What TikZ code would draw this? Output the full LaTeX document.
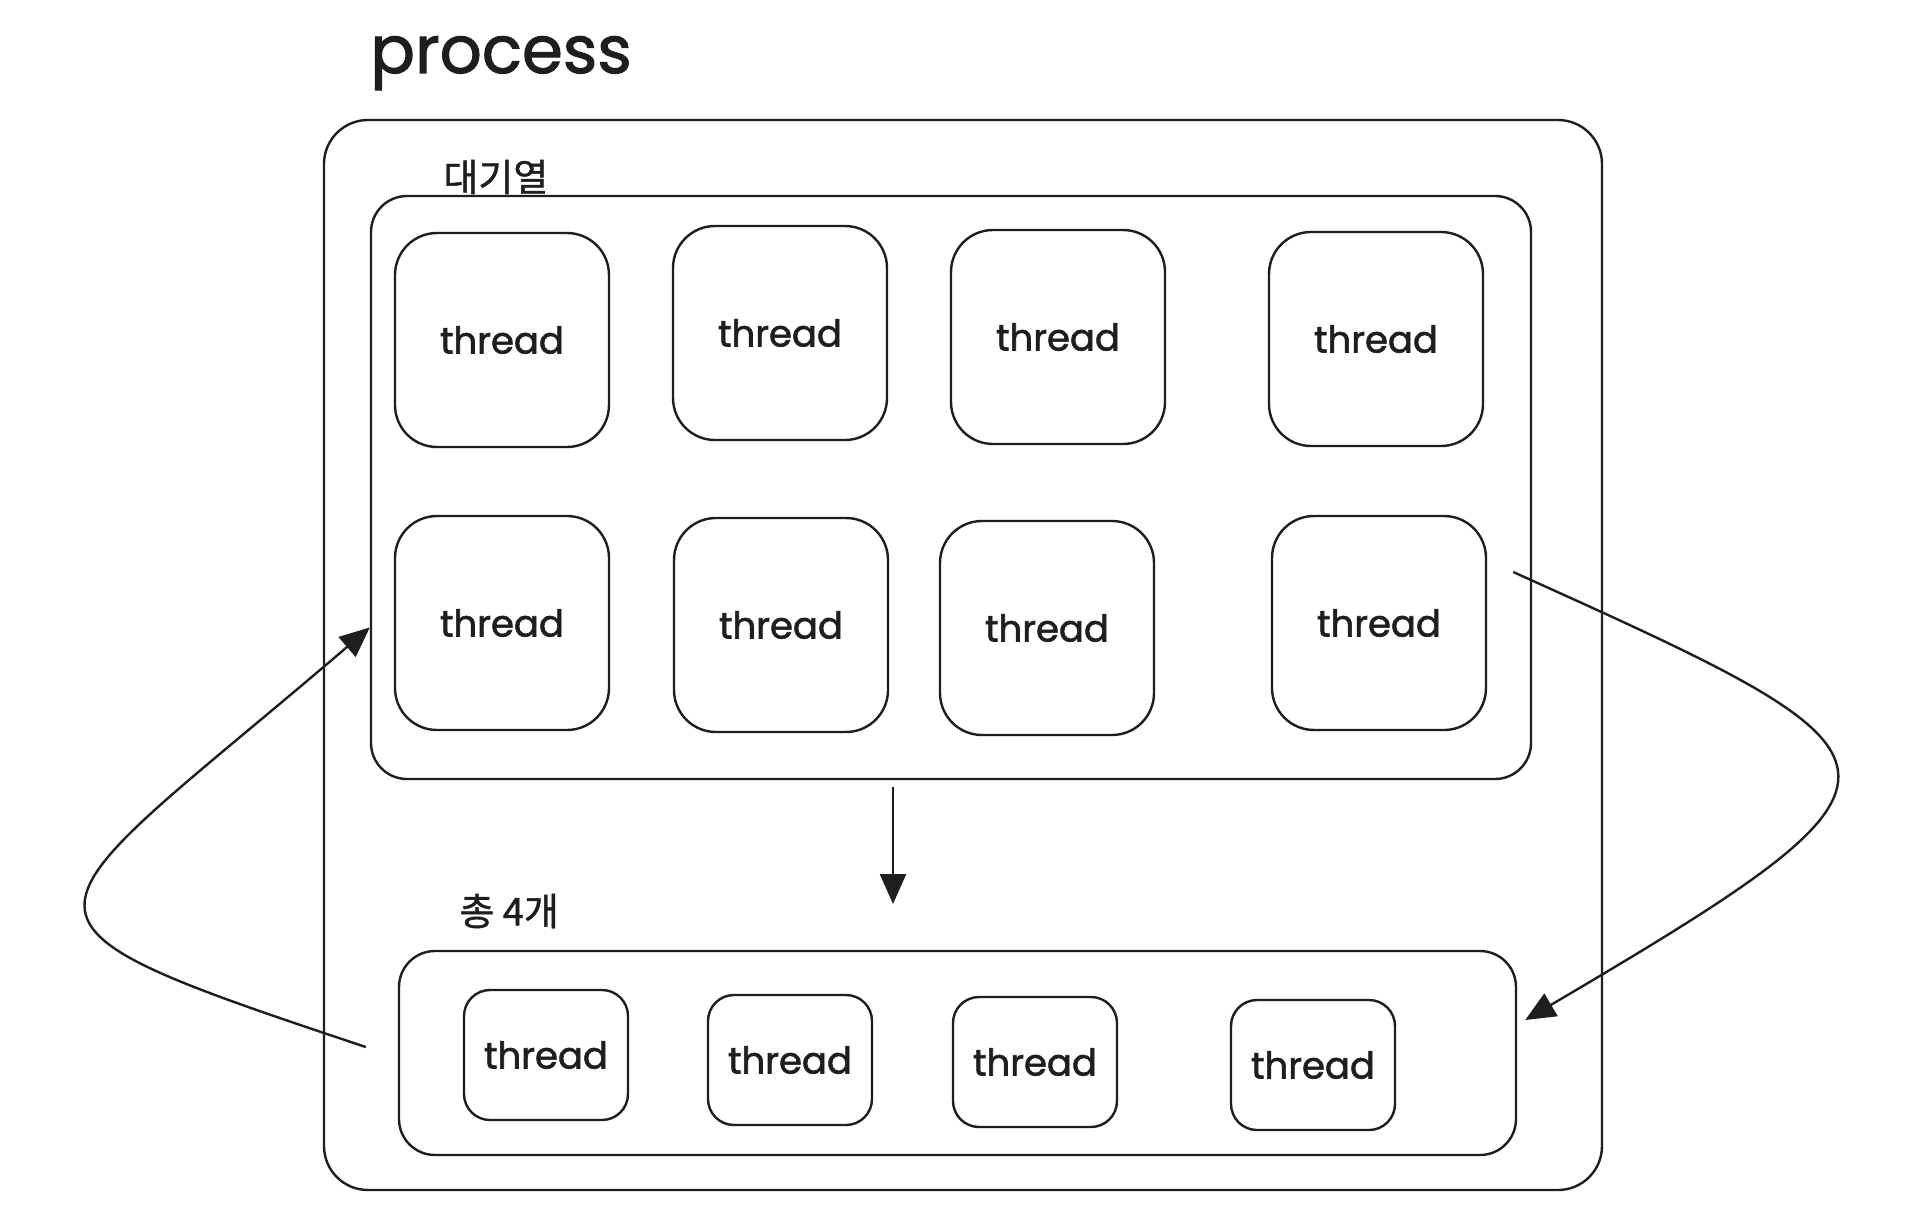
\documentclass[tikz,border=0pt]{standalone}
\usepackage{fontspec}
\setmainfont{Poppins}[FakeBold=1.6]
\newfontfamily\krfont{Noto Sans CJK KR}[FakeBold=1.2]
\usetikzlibrary{arrows.meta}
\definecolor{ink}{HTML}{1E1E1E}
\begin{document}
\begin{tikzpicture}[x=0.5pt,y=-0.5pt,
  box/.style={draw=ink, line width=1.2pt, rounded corners=#1, inner sep=0pt},
  bigthread/.style={box=21pt, minimum width=107pt, minimum height=107pt, font=\fontsize{18.5}{22}\selectfont, text=ink},
  smallthread/.style={box=13pt, minimum width=82pt, minimum height=65pt, font=\fontsize{18.5}{22}\selectfont, text=ink},
  lbl/.style={font=\krfont\fontsize{19}{21}\selectfont, text=ink, inner sep=0pt},
  arr/.style={draw=ink, line width=1.2pt, -{Triangle[length=15pt,width=13pt]}}]
\useasboundingbox (0,0) rectangle (1920,1220);
\fill[white] (0,0) rectangle (1920,1220);
% title
\node[anchor=base west, inner sep=0pt, font=\fontsize{33}{38}\selectfont, text=ink] (title) at (370,73) {process};
% containers
\node[box=22pt, minimum width=639pt, minimum height=535pt] (proc) at (963,655) {};
\node[box=18pt, minimum width=580pt, minimum height=291.5pt] (queue) at (951,487.5) {};
\node[box=18pt, minimum width=558.5pt, minimum height=102pt] (bot) at (957.5,1053) {};
% labels
\node[lbl, anchor=west] (qlbl) at (443,177) {대기열};
\node[lbl, anchor=west] (blbl) at (459,911) {총 4개};
% queue threads
\node[bigthread] (t1) at (502,340) {thread};
\node[bigthread] (t2) at (780,333) {thread};
\node[bigthread] (t3) at (1058,337) {thread};
\node[bigthread] (t4) at (1376,339) {thread};
\node[bigthread] (t5) at (502,623) {thread};
\node[bigthread] (t6) at (781,625) {thread};
\node[bigthread] (t7) at (1047,628) {thread};
\node[bigthread] (t8) at (1379,623) {thread};
% bottom threads
\node[smallthread] (b1) at (546,1055) {thread};
\node[smallthread] (b2) at (790,1060) {thread};
\node[smallthread] (b3) at (1035,1062) {thread};
\node[smallthread] (b4) at (1313,1065) {thread};
% connectors
\coordinate (dE) at (893,904);
\draw[arr, shorten <=3.5pt] (queue.south -| dE) -- (dE);
\coordinate (lS) at ([xshift=-16pt, yshift=3pt]bot.west);
\coordinate (lE) at ([yshift=-70pt]queue.west);
\draw[arr] (lS) .. controls (-33,914) and (21,926) .. (lE);
\coordinate (rS) at ([xshift=13pt, yshift=25.5pt]t8.east);
\coordinate (rE) at ([xshift=4pt, yshift=16.5pt]bot.east);
\draw[arr] (rS) .. controls (1930,760) and (1950,770) .. (rE);
\end{tikzpicture}
\end{document}
